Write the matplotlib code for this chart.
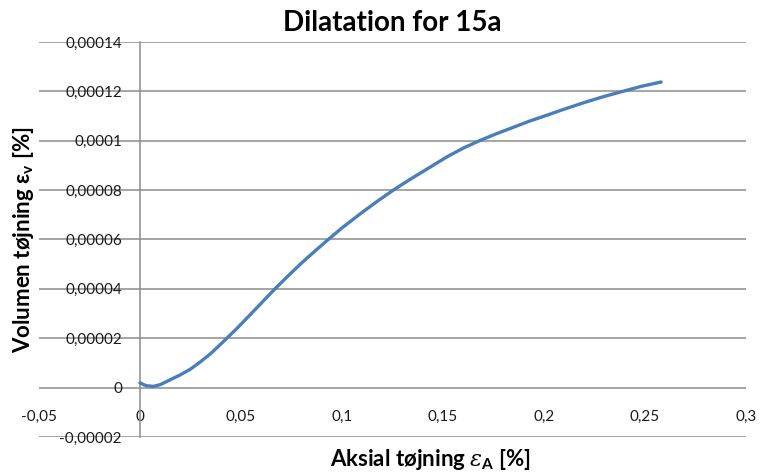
import matplotlib
matplotlib.use('Agg')
import matplotlib.pyplot as plt
from matplotlib.ticker import FixedLocator, FixedFormatter

# aflæst kurve: aksial tøjning [%] og volumen tøjning [%]
eps_a = [0.0, 0.003, 0.0066, 0.01, 0.015, 0.02, 0.025, 0.03, 0.035, 0.042, 0.048, 0.0545,
         0.06, 0.0668, 0.073, 0.08, 0.087, 0.0932, 0.1, 0.11, 0.1175, 0.1254, 0.133, 0.14,
         0.152, 0.16, 0.168, 0.176, 0.185, 0.193, 0.2013, 0.21, 0.22, 0.23, 0.239, 0.248, 0.258]
eps_v = [0.19e-5, 0.08e-5, 0.05e-5, 0.12e-5, 0.32e-5, 0.52e-5, 0.75e-5, 1.05e-5, 1.38e-5,
         1.92e-5, 2.4e-5, 2.95e-5, 3.42e-5, 4.0e-5, 4.5e-5, 5.05e-5, 5.56e-5, 6.0e-5,
         6.47e-5, 7.1e-5, 7.55e-5, 8.0e-5, 8.4e-5, 8.75e-5, 9.35e-5, 9.7e-5, 10.0e-5,
         10.27e-5, 10.55e-5, 10.8e-5, 11.03e-5, 11.28e-5, 11.55e-5, 11.8e-5, 12.0e-5,
         12.2e-5, 12.38e-5]

x_ticks = [-0.05, 0, 0.05, 0.1, 0.15, 0.2, 0.25, 0.3]
x_labels = ['-0,05', '0', '0,05', '0,1', '0,15', '0,2', '0,25', '0,3']
y_ticks = [-0.00002, 0, 0.00002, 0.00004, 0.00006, 0.00008, 0.0001, 0.00012, 0.00014]
y_labels = ['-0,00002', '0', '0,00002', '0,00004', '0,00006', '0,00008', '0,0001', '0,00012', '0,00014']

plt.rcParams['font.family'] = ['Lato', 'DejaVu Sans']
plt.rcParams['mathtext.fontset'] = 'custom'
plt.rcParams['mathtext.rm'] = 'Lato'
plt.rcParams['mathtext.it'] = 'DejaVu Serif:italic'
plt.rcParams['mathtext.bf'] = 'Lato:bold'

fig = plt.figure(figsize=(7.61, 4.76), dpi=100)
ax = fig.add_axes([39 / 761, 39 / 476, 707 / 761, 395 / 476])

ax.plot(eps_a, eps_v, color='#4a7ebb', lw=2.4, solid_capstyle='round',
        solid_joinstyle='round', zorder=3)

ax.set_xlim(-0.05, 0.3)
ax.set_ylim(-0.00002, 0.00014)
ax.xaxis.set_major_locator(FixedLocator(x_ticks))
ax.xaxis.set_major_formatter(FixedFormatter(x_labels))
ax.yaxis.set_major_locator(FixedLocator(y_ticks))
ax.yaxis.set_major_formatter(FixedFormatter(y_labels))

ax.grid(axis='y', color='#8c8c8c', lw=1.1)
ax.set_axisbelow(True)
for s in ['top', 'right', 'bottom']:
    ax.spines[s].set_visible(False)
ax.spines['left'].set_position(('data', 0))
ax.spines['left'].set_color('#8c8c8c')
ax.spines['left'].set_linewidth(1.1)
ax.spines['bottom'].set_position(('data', 0))

ax.tick_params(axis='both', length=0, labelsize=11, labelcolor='#1a1a1a')
ax.tick_params(axis='y', pad=13)
ax.tick_params(axis='x', pad=16)

ax.set_title('Dilatation for 15a', fontsize=20, fontweight='bold', pad=8)
ax.set_ylabel(r'Volumen tøjning ε$_{\mathbf{v}}$ [%]', fontsize=16, fontweight='bold')
ax.yaxis.set_label_coords(-0.004, 0.5)
ax.set_xlabel(r'Aksial tøjning $\varepsilon_{\mathbf{A}}$ [%]', fontsize=16, fontweight='bold')
ax.xaxis.set_label_coords(0.554, -0.025)

fig.savefig('out.png', dpi=100)
